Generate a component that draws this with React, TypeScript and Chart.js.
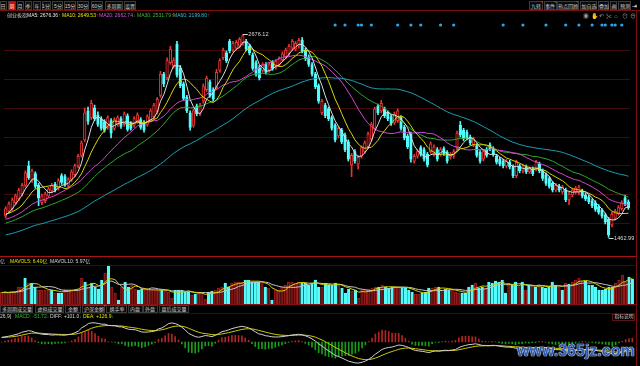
import React, { useEffect, useRef } from "react";
import { Chart, registerables } from "chart.js";
Chart.register(...registerables);

// ---------- data (weekly K-line, 创业板指) ----------
const priorCloses = [1420,1405,1392,1380,1372,1365,1378,1390,1384,1376,1395,1410,1402,1388,1396,1412,1425,1418,1406,1398,1410,1422,1430,1415,1408,1420,1435,1428,1440,1450,
1462,1475,1488,1470,1495,1510,1502,1520,1515,1530,
1525,1540,1532,1518,1545,1550,1538,1530,1548,1545,
1560,1585,1610,1605,1620,1600,1590,1575,1585,1598];

const opens = [1589,1618,1635,1670,1693,1722,1774,1890,1803,1844,
1774,1670,1682,1711,1740,1780,1757,1832,1826,1774,
1809,1838,1890,1953,2046,2219,2179,2237,2196,2173,
2156,2121,2161,2115,2138,2173,2138,2190,2144,2133,
2156,2167,2150,2138,2167,2185,2213,2312,2439,2416,
2508,2485,2618,2474,2381,2300,2208,2133,2248,2202,
2277,2346,2393,2346,2358,2462,2537,2566,2635,2583,
2595,2606,2624,2635,2606,2554,2508,2479,2462,2497,
2462,2508,2479,2497,2526,2543,2560,2595,2589,2606,
2641,2583,2543,2497,2439,2370,2208,2254,2231,2179,
2133,2069,2104,2075,2034,1896,1976,1901,1948,1976,
2005,2052,2115,2248,2219,2231,2208,2185,2150,2161,
2179,2121,2069,2081,1919,1948,2000,1988,1959,1976,
1959,1988,1959,1994,1971,1942,1948,2000,2133,2104,
2092,2063,2017,2011,1971,1930,1988,2017,1994,1948,
1930,1919,1890,1913,1884,1832,1890,1861,1884,1855,
1872,1872,1901,1861,1838,1815,1786,1745,1768,1734,
1745,1687,1716,1734,1728,1740,1716,1705,1682,1670,
1647,1624,1595,1572,1537,1578,1607,1635,1699,1676];

const highs = [1647,1676,1699,1722,1757,1786,1861,1919,1872,1855,
1786,1722,1734,1763,1786,1792,1815,1844,1838,1820,
1867,1901,1959,2040,2237,2242,2283,2254,2213,2185,
2167,2190,2173,2179,2190,2185,2213,2202,2156,2185,
2208,2179,2161,2196,2231,2265,2300,2456,2450,2537,
2606,2537,2635,2491,2393,2312,2219,2231,2260,2265,
2381,2427,2404,2358,2468,2531,2595,2578,2647,2635,
2641,2658,2676.12,2647,2618,2566,2520,2491,2508,2508,
2508,2520,2526,2543,2572,2595,2618,2647,2635,2653,
2658,2595,2554,2508,2450,2381,2289,2265,2242,2190,
2144,2127,2115,2086,2046,1965,1988,1953,2011,2040,
2092,2150,2242,2260,2283,2242,2219,2196,2213,2231,
2190,2133,2081,2092,1959,1988,2011,2000,1971,2034,
2017,2000,2000,2005,1982,1971,1988,2098,2156,2115,
2104,2075,2063,2023,1982,1988,2000,2029,2005,1959,
1942,1930,1930,1924,1896,1924,1901,1901,1896,1884,
1884,1924,1913,1872,1849,1826,1797,1786,1780,1774,
1757,1734,1757,1768,1774,1751,1728,1716,1693,1682,
1659,1635,1607,1583,1612,1630,1653,1682,1716,1687];

const lows = [1578,1607,1624,1659,1682,1711,1763,1809,1792,1757,
1653,1659,1670,1699,1728,1734,1745,1780,1768,1763,
1797,1826,1878,1942,2034,2138,2167,2161,2127,2104,
2092,2109,2057,2104,2127,2115,2127,2098,2104,2121,
2144,2109,2092,2127,2156,2173,2202,2300,2364,2404,
2497,2474,2421,2358,2283,2208,2104,2121,2190,2190,
2265,2335,2300,2277,2346,2450,2526,2508,2566,2572,
2583,2595,2612,2578,2554,2462,2427,2404,2450,2439,
2450,2462,2468,2485,2514,2531,2549,2583,2578,2595,
2566,2520,2485,2427,2352,2265,2196,2179,2161,2104,
2034,2057,2023,1976,1919,1826,1907,1872,1936,1965,
1994,2040,2104,2196,2208,2179,2161,2133,2138,2150,
2104,2046,1994,1913,1907,1936,1948,1919,1884,1965,
1948,1919,1948,1953,1907,1930,1936,1988,2063,2040,
2046,2017,2005,1942,1907,1919,1942,1982,1948,1901,
1890,1878,1878,1872,1820,1820,1849,1849,1844,1844,
1832,1861,1849,1803,1774,1757,1734,1734,1734,1722,
1676,1659,1705,1722,1716,1699,1682,1664,1641,1618,
1601,1578,1543,1462.99,1526,1566,1595,1624,1653,1630];

const closes = [1635,1664,1687,1711,1745,1774,1849,1820,1861,1768,
1699,1711,1722,1751,1774,1745,1803,1792,1780,1809,
1855,1890,1948,2029,2208,2156,2265,2173,2138,2115,
2104,2179,2086,2167,2179,2127,2202,2109,2115,2173,
2196,2121,2104,2185,2219,2254,2289,2439,2381,2520,
2589,2520,2433,2370,2294,2219,2121,2219,2202,2254,
2364,2416,2312,2289,2450,2520,2583,2520,2578,2624,
2630,2647,2670,2589,2566,2474,2439,2416,2497,2450,
2497,2474,2514,2531,2560,2583,2606,2635,2624,2641,
2578,2531,2497,2439,2364,2277,2277,2190,2173,2115,
2046,2115,2034,1988,1930,1953,1919,1942,2000,2029,
2081,2138,2231,2208,2265,2190,2173,2144,2202,2219,
2115,2057,2005,1930,1948,1976,1959,1930,1896,2023,
2005,1930,1988,1965,1919,1959,1976,2086,2075,2052,
2057,2029,2052,1953,1919,1976,1953,1994,1959,1913,
1901,1890,1919,1884,1832,1913,1861,1890,1855,1872,
1844,1913,1861,1815,1786,1768,1745,1774,1745,1763,
1687,1722,1745,1757,1763,1711,1693,1676,1653,1630,
1612,1589,1555,1479,1601,1618,1641,1670,1664,1641];

// volume in 亿
const priorVolumes = [4.4,4.8,4.0,4.4,5.2,4.8,4.4,4.0,4.8];
const volumes = [4.8,5.2,4.4,4.8,4.8,6.8,6.8,10.4,8.4,8.4,
6.8,5.6,5.6,5.6,5.6,5.6,4.4,4.4,4.4,6.0,
6.0,6.0,6.0,6.0,10.4,8.8,6.8,8.4,6.8,6.0,
9.6,12.4,15.6,6.8,4.4,1.6,6.8,8.8,6.8,7.6,
6.0,5.6,6.0,5.6,5.6,5.6,5.6,5.6,5.6,5.6,
4.8,2.4,5.6,5.6,5.6,4.8,4.8,3.6,4.0,4.8,
4.8,2.0,4.8,5.2,5.6,6.4,6.8,8.4,6.8,8.4,
8.8,8.8,8.8,9.6,9.6,8.8,8.8,8.8,8.8,6.8,
6.4,1.6,5.6,5.6,6.8,7.6,8.8,8.8,8.4,8.8,
8.4,8.4,7.6,8.4,9.6,6.8,6.8,8.4,7.6,7.6,
8.4,7.6,6.4,4.4,6.0,5.2,5.6,2.4,5.6,5.6,
6.0,6.4,6.8,6.8,7.6,6.8,6.4,6.8,6.8,6.8,
6.4,6.4,5.6,4.8,4.0,4.0,4.4,4.8,6.4,6.4,
6.8,6.8,5.6,6.0,5.6,5.6,4.8,4.4,4.4,4.4,
6.8,7.6,8.4,6.4,6.8,6.4,8.8,8.4,9.2,8.8,
9.6,4.4,8.4,7.6,8.8,6.8,8.8,5.6,7.6,7.6,
6.8,7.6,6.8,6.4,6.8,8.8,7.6,6.8,5.6,8.4,
8.0,8.8,9.6,10.4,9.2,9.2,7.6,7.6,6.8,5.6,
5.6,6.0,6.8,6.8,8.4,9.6,11.6,8.8,10.8,10.0];

// bars that carry an event marker (blue dots on top row)
const eventBars = [100,103,107,108,111,119,123,126,132,136,151,157,164,170,174,178,181,182,184,185,187];
const eventMarkerLevel = 2733;

// horizontal grid levels of the price pane (axis labels are outside the crop)
const priceGridLevels = [1548.7, 1716.3, 1889.7, 2063.1, 2236.5, 2404.2, 2577.6];
const priceMin = 1375.3;
const priceMax = 2751;
const volumeMax = 16.8;

const maPeriods = [5, 10, 20, 30, 60];
const maColors = ["#dcdcdc", "#d8d800", "#d048d0", "#2fa82f", "#1c9fb2"];

const toolbarLeft = ["日", "周", "月", "季", "年", "1分", "5分", "15分", "30分", "60分", "多周期", "设置"];
const toolbarRight = ["九转", "事件", "热点回顾", "加自选", "叠加", "画", "预测"];
const volumeTabs = ["多周期成交量", "虚拟成交量", "金额", "沪深金额", "换手率", "内盘", "外盘", "盘后成交量"];

const UP = "#e83434";
const DOWN = "#54fcfc";

function movingAverage(series: number[], prior: number[], n: number) {
  const all = prior.concat(series);
  const off = prior.length;
  return series.map((_, i) => {
    const end = off + i;
    const start = end - n + 1;
    if (start < 0) return null;
    let s = 0;
    for (let k = start; k <= end; k++) s += all[k];
    return s / n;
  });
}
function ema(arr: number[], n: number) {
  const out: number[] = [];
  let prev = arr[0];
  arr.forEach((v, i) => {
    prev = i === 0 ? v : prev + (2 / (n + 1)) * (v - prev);
    out.push(prev);
  });
  return out;
}

const FONT = '"Liberation Sans", "Noto Sans CJK SC", sans-serif';

// small text: rendered at 10px then scaled (avoids browser minimum font size)
const T = ({ x, y, c, s = 5, children }: any) => (
  <span style={{ position: "absolute", left: x, top: y, color: c, fontSize: 10, lineHeight: 1, whiteSpace: "nowrap", fontFamily: FONT, transform: `scale(${s / 10})`, transformOrigin: "0 0" }}>{children}</span>
);

const HLine = ({ y, c, x0 = 0, x1 = 636 }: any) => (
  <div style={{ position: "absolute", left: x0, top: y, width: x1 - x0, height: 1, background: c }} />
);

const Btn = ({ x, w, label, active, y = 1, h = 9, s = 5 }: any) => (
  <div style={{ position: "absolute", left: x, top: y, width: w, height: h, boxSizing: "border-box", border: "1px solid #3a3a3a", background: active ? "#c81010" : "#0b0b0b" }}>
    <span style={{ position: "absolute", left: "50%", top: "50%", transform: `translate(-50%,-50%) scale(${s / 10})`, transformOrigin: "center", color: active ? "#fff" : "#cfcfcf", fontSize: 10, lineHeight: 1, fontFamily: FONT, whiteSpace: "nowrap" }}>{label}</span>
  </div>
);

export default function App() {
  const mainRef = useRef<HTMLCanvasElement>(null);
  const volRef = useRef<HTMLCanvasElement>(null);
  const macdRef = useRef<HTMLCanvasElement>(null);

  useEffect(() => {
    document.body.style.margin = "0";
    document.body.style.background = "#000";
    const labels = closes.map((_, i) => String(i + 1));
    const isUp = closes.map((c, i) => c >= opens[i]);

    const extremeLabels = {
      id: "extremeLabels",
      afterDatasetsDraw(chart: any) {
        const ctx = chart.ctx;
        const xs = chart.scales.x;
        const ys = chart.scales.y;
        let hi = 0, lo = 0;
        highs.forEach((h, i) => { if (h > highs[hi]) hi = i; });
        lows.forEach((l, i) => { if (l < lows[lo]) lo = i; });
        ctx.save();
        ctx.strokeStyle = "#cfcfcf";
        ctx.fillStyle = "#d8d8d8";
        ctx.lineWidth = 1;
        ctx.font = '5.6px "Liberation Sans"';
        ctx.textBaseline = "middle";
        const hx = xs.getPixelForValue(hi), hy = ys.getPixelForValue(highs[hi]);
        ctx.beginPath(); ctx.moveTo(hx, Math.round(hy) - 0.5); ctx.lineTo(hx + 5, Math.round(hy) - 0.5); ctx.stroke();
        ctx.fillText(highs[hi].toFixed(2), hx + 5.5, hy - 0.5);
        const lx = xs.getPixelForValue(lo), ly = ys.getPixelForValue(lows[lo]);
        ctx.beginPath(); ctx.moveTo(lx, Math.round(ly) + 1.5); ctx.lineTo(lx + 5, Math.round(ly) + 1.5); ctx.stroke();
        ctx.fillText(lows[lo].toFixed(2), lx + 5.5, ly + 1.5);
        ctx.restore();
      },
    };

    const maSets = maPeriods.map((p, k) => ({
      type: "line", label: "MA" + p, data: movingAverage(closes, priorCloses, p),
      borderColor: maColors[k], borderWidth: 1, pointRadius: 0, tension: 0, order: 0,
    }));

    const main = new Chart(mainRef.current!, {
      type: "bar",
      data: {
        labels,
        datasets: [
          ...maSets,
          {
            type: "line", label: "events", data: closes.map((_, i) => (eventBars.includes(i) ? eventMarkerLevel : null)),
            showLine: false, pointRadius: 1.6, pointBackgroundColor: "#2aa6e6", pointBorderWidth: 0, order: 0,
          },
          {
            type: "bar", label: "body", data: opens.map((o, i) => [o, closes[i]]),
            backgroundColor: isUp.map((u) => (u ? "#1a0000" : DOWN)), borderColor: isUp.map((u) => (u ? UP : DOWN)),
            borderWidth: 1, borderSkipped: false, barThickness: 2.6, grouped: false, minBarLength: 1, order: 1,
          },
          {
            type: "bar", label: "wick", data: lows.map((l, i) => [l, highs[i]]),
            backgroundColor: isUp.map((u) => (u ? UP : DOWN)), barThickness: 1, grouped: false, order: 2,
          },
        ] as any,
      },
      options: {
        responsive: false, animation: false, events: [],
        layout: { padding: 0 },
        plugins: { legend: { display: false }, tooltip: { enabled: false } },
        scales: {
          x: { display: false, offset: true },
          y: {
            min: priceMin, max: priceMax, position: "left",
            ticks: { display: false }, border: { display: false },
            grid: { color: "#420a0a", drawTicks: false, lineWidth: 1 },
            afterBuildTicks: (ax: any) => { ax.ticks = priceGridLevels.map((v) => ({ value: v })); },
          },
        },
      } as any,
      plugins: [extremeLabels],
    });

    const vol = new Chart(volRef.current!, {
      type: "bar",
      data: {
        labels,
        datasets: [
          { type: "line", data: movingAverage(volumes, priorVolumes, 5), borderColor: "#d2d200", borderWidth: 1, pointRadius: 0, order: 0 },
          { type: "line", data: movingAverage(volumes, priorVolumes, 10), borderColor: "#c4c4c4", borderWidth: 1, pointRadius: 0, order: 0 },
          {
            type: "bar", data: volumes,
            backgroundColor: isUp.map((u) => (u ? "#5c0e0e" : DOWN)), borderColor: isUp.map((u) => (u ? "#9e1e1e" : DOWN)),
            borderWidth: 1, barThickness: 2.6, order: 1,
          },
        ] as any,
      },
      options: {
        responsive: false, animation: false, events: [],
        layout: { padding: 0 },
        plugins: { legend: { display: false }, tooltip: { enabled: false } },
        scales: { x: { display: false, offset: true }, y: { display: false, min: 0, max: volumeMax } },
      } as any,
    });

    const allC = priorCloses.concat(closes);
    const e12 = ema(allC, 12), e26 = ema(allC, 26);
    const diffAll = e12.map((v, i) => v - e26[i]);
    const deaAll = ema(diffAll, 9);
    const off = priorCloses.length;
    const diff = diffAll.slice(off), dea = deaAll.slice(off);
    const macd = diff.map((d, i) => 2 * (d - dea[i]));
    const R = Math.max(...diff.map(Math.abs), ...dea.map(Math.abs), ...macd.map(Math.abs)) * 1.14;

    const mc = new Chart(macdRef.current!, {
      type: "bar",
      data: {
        labels,
        datasets: [
          { type: "line", data: diff, borderColor: "#d0d0d0", borderWidth: 1, pointRadius: 0, order: 0 },
          { type: "line", data: dea, borderColor: "#cccc00", borderWidth: 1, pointRadius: 0, order: 0 },
          { type: "bar", data: macd, backgroundColor: macd.map((v) => (v >= 0 ? "#b42424" : "#1c9c1c")), barThickness: 1, order: 1 },
        ] as any,
      },
      options: {
        responsive: false, animation: false, events: [],
        layout: { padding: 0 },
        plugins: { legend: { display: false }, tooltip: { enabled: false } },
        scales: { x: { display: false, offset: true }, y: { display: false, min: -R, max: R } },
      } as any,
    });

    return () => { main.destroy(); vol.destroy(); mc.destroy(); };
  }, []);

  const leftBtnX = [0, 7.5, 16.5, 24.5, 33, 41.5, 52, 64, 77, 91, 105, 123.5];
  const leftBtnW = [6.5, 8, 7, 7.5, 7.5, 9.5, 11, 12, 12, 12, 17.5, 12.5];
  const rightBtnX = [529, 544, 557, 580, 598, 610, 618];
  const rightBtnW = [14, 12.5, 21.5, 17, 11, 7, 13];
  const tabX = [0, 35, 65, 82, 106, 128, 143, 159];
  const tabW = [33, 29, 15.5, 23, 21, 14.5, 14.5, 30];
  const icons = ["◉", "✋", "↶", "✂", "⌂", "⊙", "⊖"];

  return (
    <div style={{ position: "absolute", left: 0, top: 0, width: 640, height: 366, background: "#000", overflow: "hidden" }}>
      <canvas ref={mainRef} width={634} height={238} style={{ position: "absolute", left: 0, top: 18, width: 634, height: 238 }} />
      <canvas ref={volRef} width={634} height={42} style={{ position: "absolute", left: 0, top: 262, width: 634, height: 42 }} />
      <canvas ref={macdRef} width={634} height={48} style={{ position: "absolute", left: 0, top: 318, width: 634, height: 48 }} />

      {/* frame lines */}
      <HLine y={10} c="#7a0e0e" x0={0} x1={640} />
      <HLine y={256} c="#a81414" />
      <HLine y={265} c="#3c0909" />
      <HLine y={304} c="#8a1010" />
      <HLine y={313} c="#3c0909" />
      <div style={{ position: "absolute", left: 636, top: 11, width: 1, height: 355, background: "#7a0e0e" }} />

      {/* toolbar */}
      {toolbarLeft.map((l, i) => <Btn key={l} x={leftBtnX[i]} w={leftBtnW[i]} label={l} active={l === "周"} />)}
      {toolbarRight.map((l, i) => <Btn key={l} x={rightBtnX[i]} w={rightBtnW[i]} label={l} />)}
      {[541, 554, 576].map((x) => (
        <div key={x} style={{ position: "absolute", left: x, top: 1, width: 0, height: 0, borderLeft: "2px solid transparent", borderTop: "2px solid #ff2020" }} />
      ))}
      <T x={632} y={2.5} c="#e8e8e8" s={6}>⇥</T>
      {icons.map((g, i) => <T key={i} x={583 + i * 7.8} y={12.5} c="#9a9a9a" s={6}>{g}</T>)}

      {/* price legend */}
      <T x={7} y={12.5} c="#c8c8c8">创业板指</T>
      <T x={27} y={12.5} c="#e6e6e6">MA5: 2676.36<span style={{ color: "#ff3030" }}>↑</span></T>
      <T x={62} y={12.5} c="#e6e600">MA10: 2649.53<span style={{ color: "#ff3030" }}>↑</span></T>
      <T x={99} y={12.5} c="#e050e0">MA20: 2662.74<span style={{ color: "#20c020" }}>↓</span></T>
      <T x={137} y={12.5} c="#30c030">MA30: 2531.79<span style={{ color: "#ff3030" }}>↑</span></T>
      <T x={173} y={12.5} c="#30c0d0">MA60: 2199.80<span style={{ color: "#ff3030" }}>↑</span></T>

      {/* volume legend */}
      <T x={0} y={258.5} c="#c8c8c8">亿</T>
      <T x={10} y={258.5} c="#e0e000">MAVOL5: 6.40亿</T>
      <T x={50} y={258.5} c="#d8d8d8">MAVOL10: 5.97亿</T>

      {/* volume tabs */}
      {volumeTabs.map((l, i) => <Btn key={l} x={tabX[i]} w={tabW[i]} label={l} y={304.5} h={8} />)}
      <div style={{ position: "absolute", left: 104, top: 304.5, width: 1.5, height: 1.5, background: "#ff2020" }} />

      {/* MACD legend */}
      <T x={0} y={314} c="#d8d8d8">26,9)</T>
      <T x={15} y={314} c="#30c030">MACD: -51.72<span style={{ color: "#20c020" }}>↓</span></T>
      <T x={50} y={314} c="#d8d8d8">DIFF: +101.0<span style={{ color: "#20c020" }}>↓</span></T>
      <T x={83} y={314} c="#e0e000">DEA: +126.9<span style={{ color: "#20c020" }}>↓</span></T>
      <div style={{ position: "absolute", left: 612, top: 313.5, width: 23, height: 7, boxSizing: "border-box", border: "1px solid #5a1414" }}>
        <span style={{ position: "absolute", left: "50%", top: "50%", transform: "translate(-50%,-50%) scale(0.48)", transformOrigin: "center", color: "#c8c8c8", fontSize: 10, lineHeight: 1, fontFamily: FONT, whiteSpace: "nowrap" }}>指标说明</span>
      </div>

      {/* watermark */}
      <span style={{ position: "absolute", left: 517, top: 343, fontFamily: '"Liberation Sans", sans-serif', fontWeight: 700, fontSize: 16, color: "#2c5cb4", whiteSpace: "nowrap", lineHeight: 1, textShadow: "0 0 1px #e8eeff, 0 0 1px #e8eeff, 0 0 1px #e8eeff" }}>www.365jz.com</span>
    </div>
  );
}
